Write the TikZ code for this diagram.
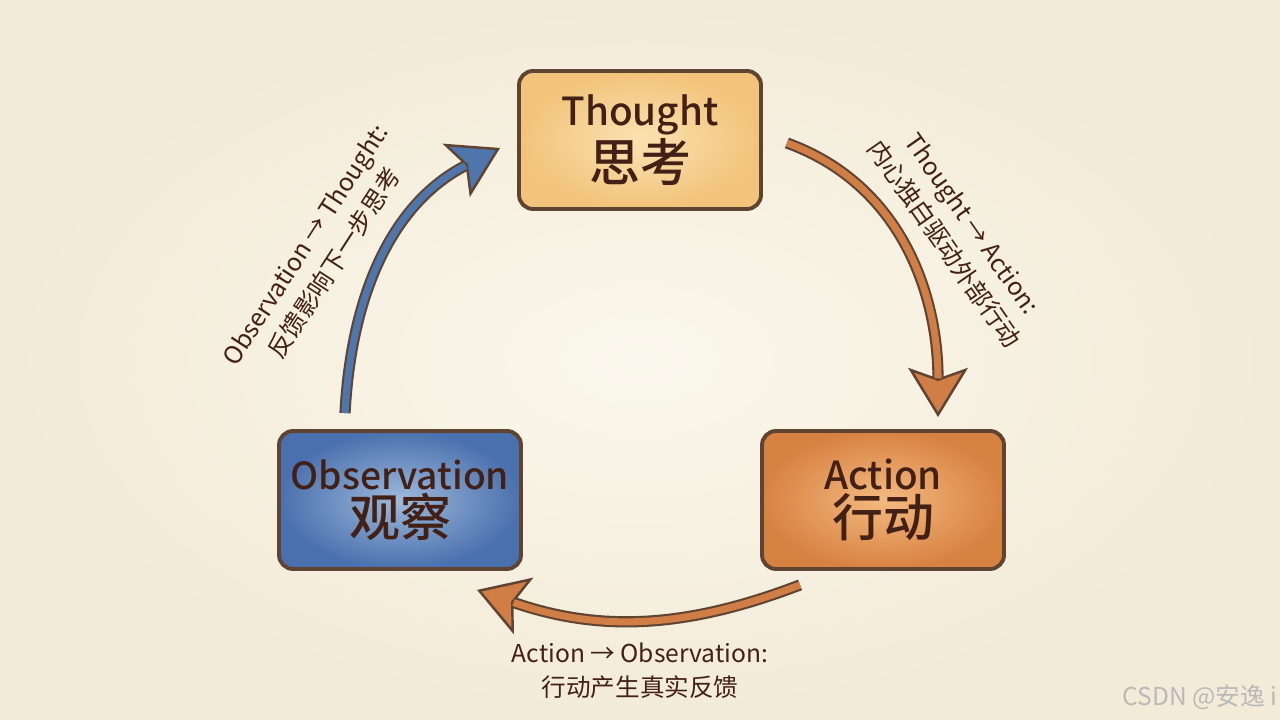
\documentclass[tikz,border=0pt]{standalone}
\usepackage{fontspec}
\setmainfont{Noto Sans CJK SC}
\newfontfamily\boxfont{Noto Sans CJK SC Medium}
\usetikzlibrary{arrows.meta}
\usetikzlibrary{positioning}

\definecolor{paper}{RGB}{250,247,236}
\definecolor{paperedge}{RGB}{243,235,216}
\definecolor{ink}{RGB}{66,32,22}
\definecolor{rim}{RGB}{95,68,50}
\definecolor{thoughtin}{RGB}{251,226,178}
\definecolor{thoughtout}{RGB}{242,195,122}
\definecolor{actin}{RGB}{243,186,128}
\definecolor{actout}{RGB}{216,130,66}
\definecolor{obsin}{RGB}{158,186,218}
\definecolor{obsout}{RGB}{74,112,174}
\definecolor{blueline}{RGB}{78,118,172}
\definecolor{orangeline}{RGB}{208,126,70}

\begin{document}
\begin{tikzpicture}[node distance=3.6cm,
	state node/.style={rectangle,rounded corners=4pt,draw=rim,line width=1.1pt,
		minimum width=2.42cm,minimum height=1.38cm,align=center,text=ink,font=\boxfont},
	flow rim/.style={draw=rim,line width=3.2pt,
		-{Stealth[length=14pt,width=17pt,inset=3pt,line width=0.7pt,fill=#1]}},
	flow core/.style={draw=#1,line width=2pt,shorten >=11pt},
	note/.style={align=center,text=ink,font=\fontsize{7}{9.8}\selectfont}]
	
	\shade[inner color=paper,outer color=paperedge] (0,0) rectangle (12.8,7.2);
	\useasboundingbox (0,0) rectangle (12.8,7.2);
	
	% the three stages
	\node[state node,inner color=thoughtin,outer color=thoughtout] (th) at (6.40,5.80)
		{\fontsize{11}{16.5}\selectfont Thought\\\fontsize{14.5}{16.5}\selectfont 思考};
	\node[state node,inner color=obsin,outer color=obsout] (obs) [below of=th,xshift=-2.40cm]
		{\fontsize{10.6}{16.5}\selectfont Observation\\\fontsize{14.5}{16.5}\selectfont 观察};
	\node[state node,inner color=actin,outer color=actout] (act) [right of=obs,node distance=4.83cm]
		{\fontsize{11}{16.5}\selectfont Action\\\fontsize{14.5}{16.5}\selectfont 行动};
	
	% loop arrows (dark rim first, colour on top)
	\draw[flow rim=blueline]
		([xshift=-0.55cm,yshift=0.16cm]obs.north) to[out=87,in=207] ([xshift=-0.17cm,yshift=-0.08cm]th.west);
	\draw[flow core=blueline]
		([xshift=-0.55cm,yshift=0.16cm]obs.north) to[out=87,in=207] ([xshift=-0.17cm,yshift=-0.08cm]th.west);
	\draw[flow rim=orangeline]
		([xshift=0.24cm,yshift=-0.03cm]th.east) to[out=-20,in=90] ([xshift=0.55cm,yshift=0.12cm]act.north);
	\draw[flow core=orangeline]
		([xshift=0.24cm,yshift=-0.03cm]th.east) to[out=-20,in=90] ([xshift=0.55cm,yshift=0.12cm]act.north);
	\draw[flow rim=orangeline]
		([xshift=-0.83cm,yshift=-0.14cm]act.south) to[out=201,in=-19] ([xshift=0.77cm,yshift=-0.19cm]obs.south);
	\draw[flow core=orangeline]
		([xshift=-0.83cm,yshift=-0.14cm]act.south) to[out=201,in=-19] ([xshift=0.77cm,yshift=-0.19cm]obs.south);
	
	% labels
	\node[note,rotate=57] (lobs) at (3.20,4.66) {Observation → Thought:\\反馈影响下一步思考};
	\node[note,rotate=-55] (lth) at (9.58,4.86) {Thought → Action:\\内心独白驱动外部行动};
	\node[note] (lact) at (6.40,0.49) {Action → Observation:\\行动产生真实反馈};
	
	\node[text=gray!55,font=\fontsize{7}{8}\selectfont] (mark) at (12.00,0.23) {CSDN @安逸 i};
\end{tikzpicture}
\end{document}
